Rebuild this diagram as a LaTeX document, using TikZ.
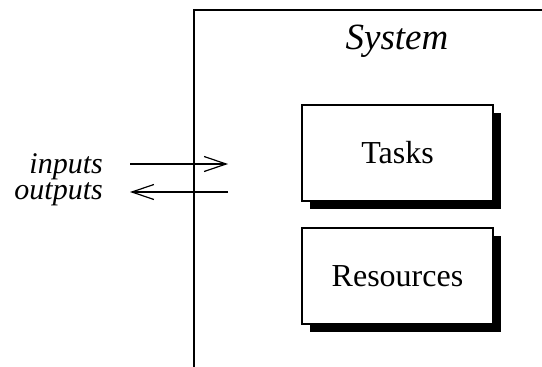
\documentclass[tikz,border=0pt]{standalone}
\usepackage{fontspec}
\setmainfont{Liberation Serif}
\usetikzlibrary{arrows.meta,shadows}
\begin{document}
\begin{tikzpicture}[x=1pt,y=-1pt,
  box/.style={draw=black,line width=1.2pt,fill=white,minimum width=191pt,minimum height=96pt,inner sep=0pt,
    font=\fontsize{32}{36}\selectfont,
    drop shadow={shadow xshift=8pt,shadow yshift=-8pt,fill=black,opacity=1}},
  lbl/.style={anchor=base east,inner sep=0pt,font=\fontsize{30}{34}\selectfont\itshape},
  flow/.style={line width=1.2pt,-{Straight Barb[length=22pt,width=15pt,line width=1.2pt]}},
  edge/.style={line width=1.4pt}]
\useasboundingbox (0,0) rectangle (542,367);
\coordinate (sysbot) at (194,367);
\coordinate (systl) at (194,10);
\coordinate (sysright) at (542,10);
\draw[edge] (sysbot) -- (systl) -- (sysright);
\node[inner sep=0pt,font=\fontsize{37}{40}\selectfont\itshape] (sys) at (397,41) {System};
\node[box] (tasks) at (397.5,153) {Tasks};
\node[box] (res) at (397.5,276) {Resources};
\node[lbl] (in) at (103,173) {inputs};
\node[lbl] (out) at (103,199) {outputs};
\coordinate (ina) at (130,164);
\coordinate (inb) at (228,164);
\coordinate (outa) at (228,192);
\coordinate (outb) at (130,192);
\draw[flow] (ina) -- (inb);
\draw[flow] (outa) -- (outb);
\end{tikzpicture}
\end{document}
